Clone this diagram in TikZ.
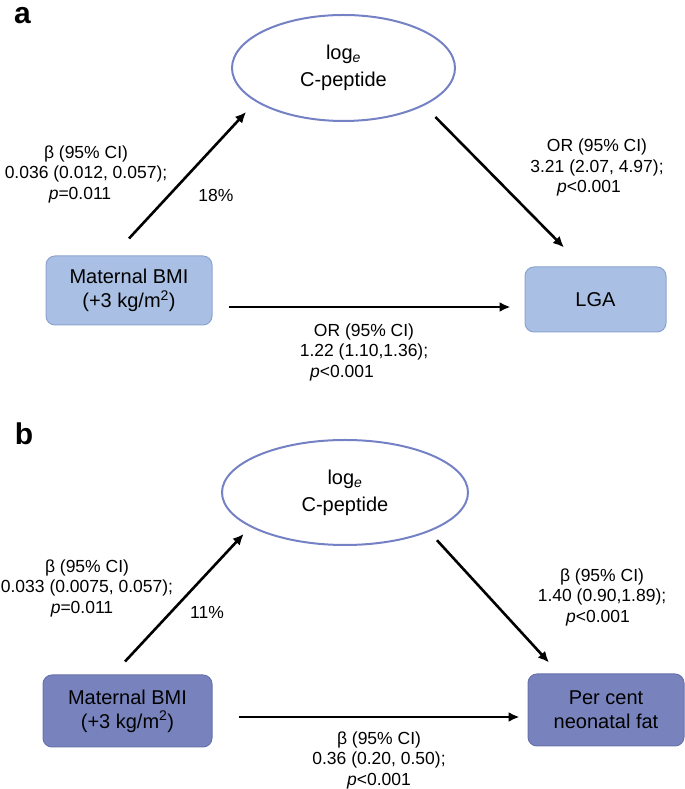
\documentclass[tikz,border=0pt]{standalone}
\usepackage{fontspec}
\setmainfont{Liberation Sans}
\usetikzlibrary{shapes,arrows.meta,positioning,calc}

\definecolor{paleblue}{RGB}{169,192,228}
\definecolor{paleline}{RGB}{140,163,207}
\definecolor{deepblue}{RGB}{120,131,189}
\definecolor{deepline}{RGB}{104,115,173}
\definecolor{ovalline}{RGB}{116,129,196}

\tikzset{
  boxa/.style={draw=paleline,fill=paleblue,rounded corners=9bp,line width=1bp,
    align=center,inner sep=0pt,font=\fontsize{20bp}{24bp}\selectfont},
  boxb/.style={boxa,draw=deepline,fill=deepblue},
  oval/.style={draw=ovalline,ellipse,line width=2bp,inner sep=0pt,
    align=center,font=\fontsize{20bp}{27bp}\selectfont},
  lbl/.style={align=center,inner sep=0pt,font=\fontsize{17.5bp}{20.5bp}\selectfont},
  panel/.style={inner sep=0pt,font=\fontsize{30bp}{30bp}\selectfont\bfseries},
  link/.style={->,line width=2.6bp},
}

\begin{document}
\begin{tikzpicture}[>={Latex[length=11bp,width=10bp]},line join=bevel,]
\useasboundingbox (0bp,0bp) rectangle (685bp,789bp);
%% panel a
\node (panA) at (22.5bp,773bp) [panel] {a};
\node (pepA) at (343.5bp,721bp) [oval,minimum width=223bp,minimum height=106bp] {log\textsubscript{\itshape e}\\C-peptide};
  \node (bmiA) at (129bp,498.5bp) [boxa,minimum width=166bp,minimum height=69bp] {Maternal BMI\\(+3 kg/m\textsuperscript{2})};
  \node (lgaA) at (595.5bp,489.5bp) [boxa,minimum width=141bp,minimum height=65bp] {LGA};
  \draw [link,shorten >=14bp] ([yshift=17bp]bmiA.north) -- (pepA.-159);
  \draw [link,shorten <=16bp] (pepA.-25) -- ([xshift=-31.5bp,yshift=19bp]lgaA.north);
  \draw [link] ([xshift=16bp,yshift=-16.5bp]bmiA.east) -- ([xshift=-14bp,yshift=-7.5bp]lgaA.west);
  \node (betaA) at (86bp,615bp) [lbl] {β (95\% CI)\\0.036 (0.012, 0.057);\\\textit{p}=0.011\hspace*{12bp}};
  \node (shareA) at (216bp,594bp) [lbl] {18\%};
  \node (orPepA) at (597bp,621.5bp) [lbl] {OR (95\% CI)\\3.21 (2.07, 4.97);\\\textit{p}<0.001\hspace*{16bp}};
  \node (orBmiA) at (364bp,437bp) [lbl] {OR (95\% CI)\\1.22 (1.10,1.36);\\\textit{p}<0.001\hspace*{44bp}};
%% panel b
\node (panB) at (24bp,355.5bp) [panel] {b};
\node (pepB) at (345bp,296.5bp) [oval,minimum width=246bp,minimum height=105bp] {log\textsubscript{\itshape e}\\C-peptide};
  \node (bmiB) at (127.5bp,78bp) [boxb,minimum width=169bp,minimum height=72bp] {Maternal BMI\\(+3 kg/m\textsuperscript{2})};
  \node (fatB) at (606bp,79bp) [boxb,minimum width=156bp,minimum height=72bp] {Per cent\\neonatal fat};
  \draw [link,shorten >=9.5bp] ([xshift=-2.5bp,yshift=13bp]bmiB.north) -- (pepB.-160.5);
  \draw [link,shorten <=11.5bp] (pepB.-25.4) -- ([xshift=-57bp,yshift=11bp]fatB.north);
  \draw [link] ([xshift=26bp,yshift=-6bp]bmiB.east) -- ([xshift=-8bp,yshift=-7bp]fatB.west);
  \node (betaB) at (87bp,201bp) [lbl] {β (95\% CI)\\0.033 (0.0075, 0.057);\\\textit{p}=0.011\hspace*{10bp}};
  \node (shareB) at (207bp,177bp) [lbl] {11\%};
  \node (betaPepB) at (602bp,192bp) [lbl] {β (95\% CI)\\1.40 (0.90,1.89);\\\textit{p}<0.001\hspace*{8bp}};
  \node (betaBmiB) at (379bp,29bp) [lbl] {β (95\% CI)\\0.36 (0.20, 0.50);\\\textit{p}<0.001};
%
\end{tikzpicture}
\end{document}
